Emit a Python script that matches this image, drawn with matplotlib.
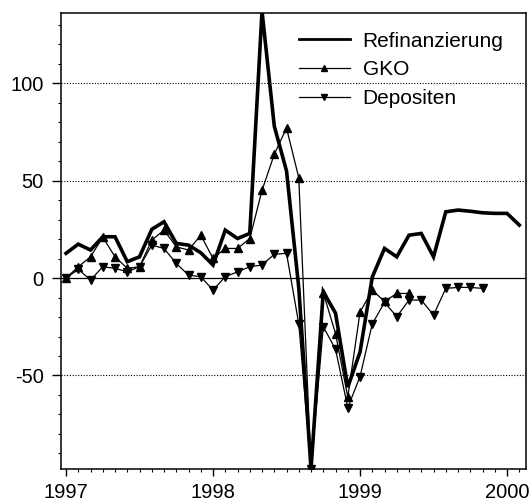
import matplotlib
matplotlib.use("Agg")
import matplotlib.pyplot as plt
import numpy as np
from matplotlib.ticker import MultipleLocator, FixedLocator

plt.rcParams['font.family'] = ['Liberation Sans', 'DejaVu Sans']

# monthly observations starting January 1997
refin = [12.7, 17.4, 14.4, 21.2, 21.2, 8.4, 10.9, 25.0, 28.9, 17.8, 16.9, 13.0,
         6.7, 24.6, 20.3, 22.9, 137.0, 78.0, 55.0, -5.0, -98.0, -7.0, -18.0, -56.0,
         -38.0, 0.5, 15.2, 10.9, 22.0, 22.9, 10.9, 34.0, 34.9, 34.3, 33.5, 33.2,
         33.2, 27.2]
gko = [0.0, 5.8, 10.9, 21.0, 10.9, 5.0, 5.8, 19.5, 24.6, 16.0, 14.4, 22.0,
       10.1, 15.2, 15.2, 20.3, 45.0, 63.5, 77.0, 51.5, -98.0, -7.5, -28.5, -61.0,
       -17.5, -6.2, -12.0, -7.9, -7.9]
depo = [0.0, 4.5, -1.0, 5.8, 5.0, 3.2, 5.8, 16.9, 15.2, 7.5, 1.5, 0.7,
        -6.2, 0.7, 3.2, 5.8, 6.7, 12.2, 12.7, -23.5, -98.0, -25.0, -36.5, -66.5,
        -50.6, -23.5, -12.5, -19.8, -11.3, -11.3, -19.0, -5.3, -4.8, -4.8, -5.3]

year_ticks = [1997, 1998, 1999, 2000]
y_ticks = [-50, 0, 50, 100]

def months(n):
    return 1997 + np.arange(n) / 12.0

fig = plt.figure(figsize=(5.32, 5.03), dpi=100)
ax = fig.add_axes([0.1147, 0.0676, 0.8740, 0.9064])

ax.plot(months(len(refin)), refin, color='black', lw=2.6, solid_joinstyle='miter',
        label='Refinanzierung', zorder=4)
ax.plot(months(len(gko)), gko, color='black', lw=0.9, marker='^', ms=5.5,
        label='GKO', zorder=3)
ax.plot(months(len(depo)), depo, color='black', lw=0.9, marker='v', ms=5.5,
        label='Depositen', zorder=3)

ax.set_xlim(1996.966, 2000.129)
ax.set_ylim(-98, 136)

ax.axhline(0, color='black', lw=0.9, zorder=1)
for v in [-50, 50, 100]:
    ax.axhline(v, color='black', lw=0.8, ls=(0, (1, 1.5)), zorder=1)

ax.xaxis.set_major_locator(FixedLocator(year_ticks))
ax.xaxis.set_minor_locator(MultipleLocator(1 / 12))
ax.set_xticklabels([str(y) for y in year_ticks])
ax.yaxis.set_major_locator(FixedLocator(y_ticks))
ax.yaxis.set_minor_locator(MultipleLocator(10))
ax.set_yticklabels([str(v) for v in y_ticks])

ax.tick_params(axis='both', which='major', direction='out', width=1,
               labelsize=14.5, colors='black')
ax.tick_params(axis='x', which='major', length=5, pad=5)
ax.tick_params(axis='y', which='major', length=6.5, pad=6)
ax.tick_params(axis='both', which='minor', direction='out', length=2.5, width=0.8)

for s in ax.spines.values():
    s.set_linewidth(1.1)

leg = ax.legend(loc='upper right', bbox_to_anchor=(0.9693, 0.9775), frameon=False,
                fontsize=15, handlelength=2.45, handletextpad=0.62,
                labelspacing=0.47, borderaxespad=0.0, markerscale=0.8)
leg.get_lines()[0].set_linewidth(2.0)

fig.savefig('out.png', dpi=100)
